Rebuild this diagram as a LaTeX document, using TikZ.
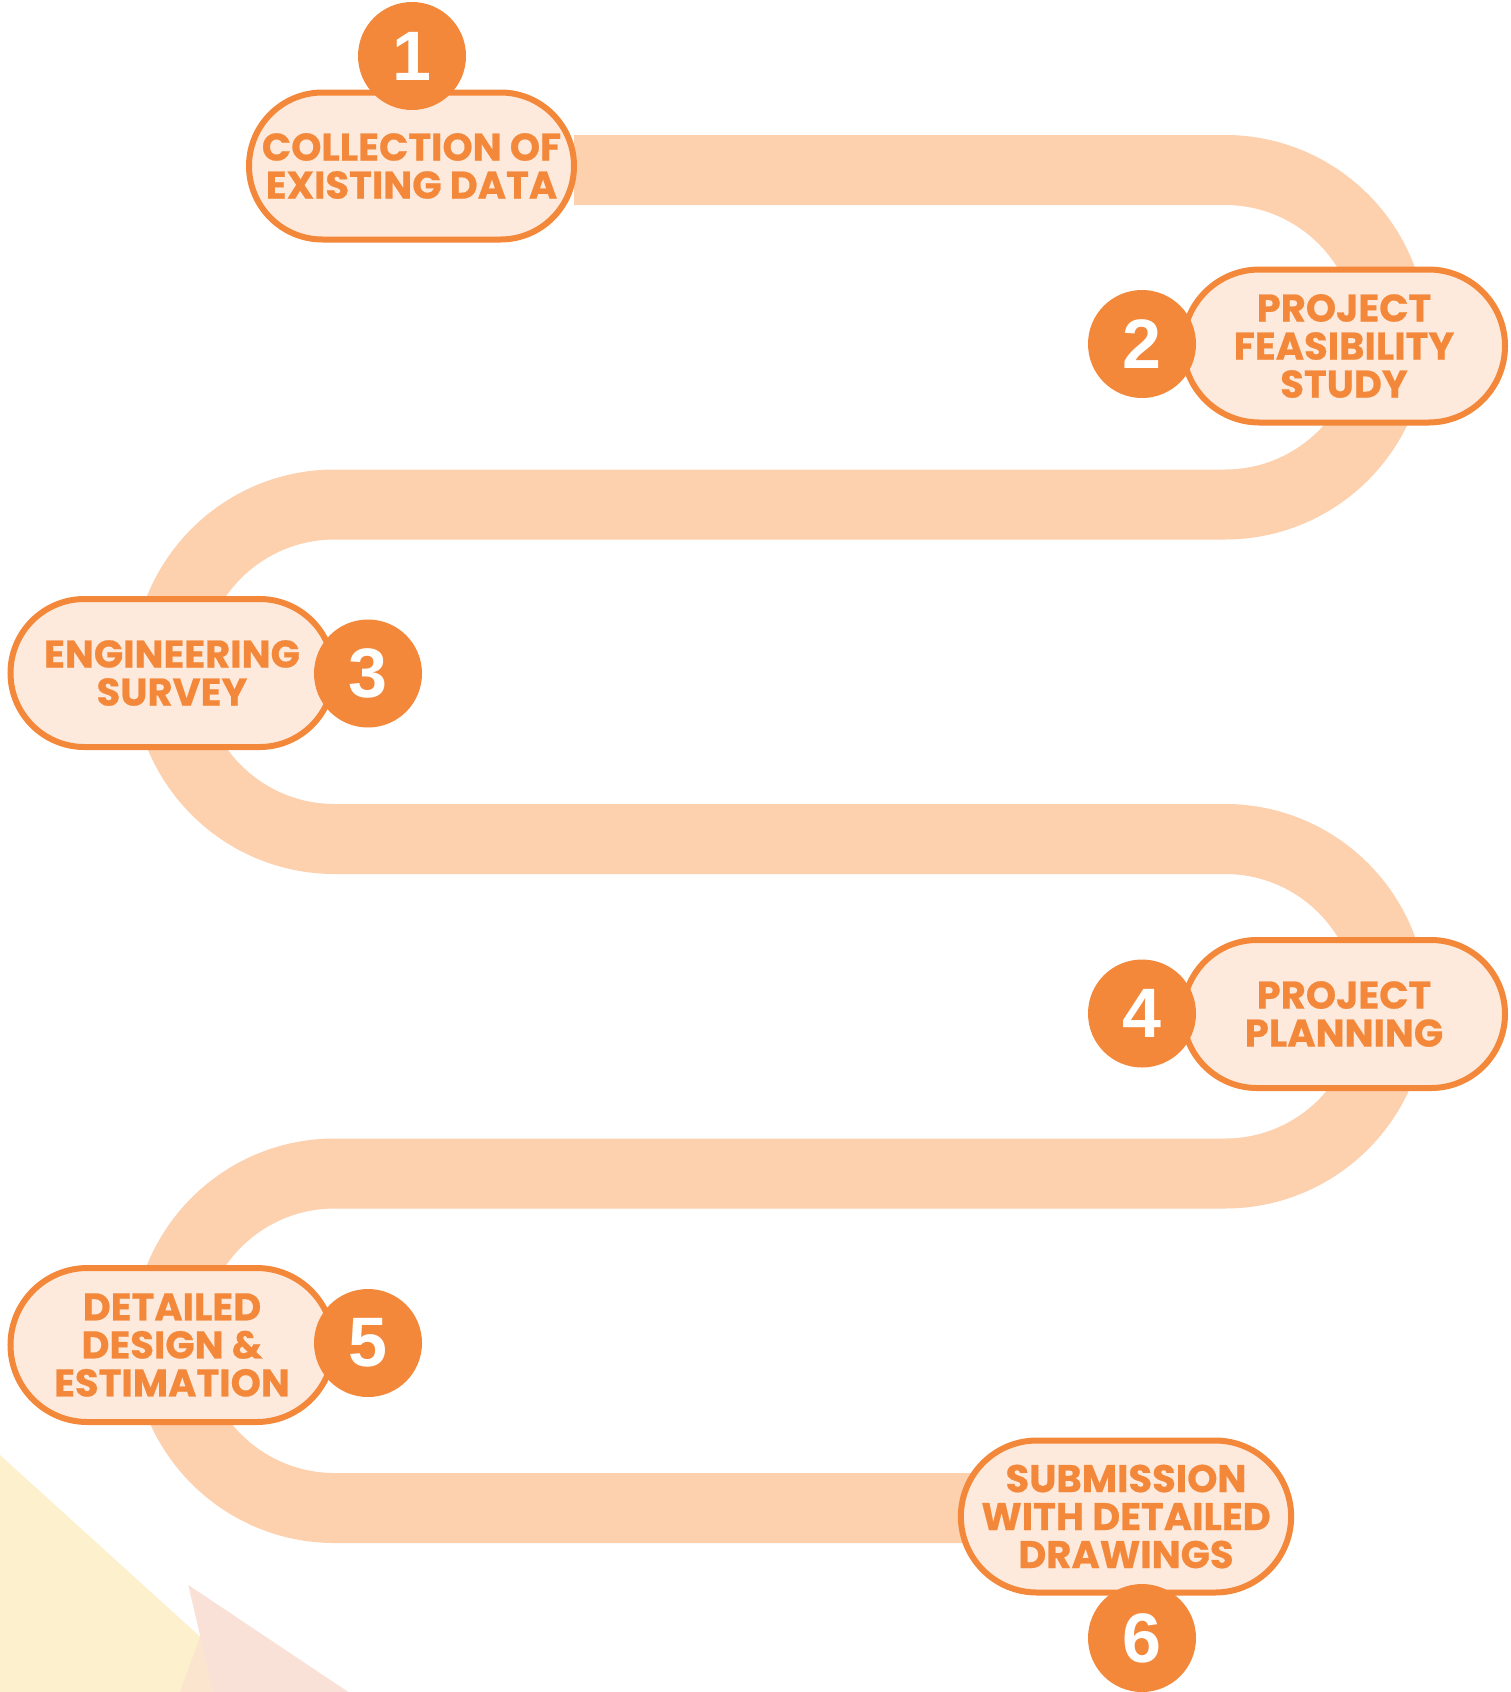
\documentclass[tikz,border=0pt]{standalone}
\usepackage{fontspec}
\usetikzlibrary{shapes.misc}
\newfontfamily\labfont{Poppins}[BoldFeatures={FakeBold=0.6}]
\newfontfamily\numfont{Liberation Sans}
\definecolor{org}{HTML}{F4883A}
\definecolor{bandc}{HTML}{FDD0AE}
\definecolor{boxfill}{HTML}{FEEADC}
\definecolor{tyellow}{HTML}{FDF0CC}
\definecolor{tpink}{HTML}{FAE1D8}
\definecolor{tpeach}{HTML}{FCE5CF}
\begin{document}
\begin{tikzpicture}[x=1pt,y=-1pt,
  stepbox/.style={rounded rectangle, draw=org, line width=6pt, fill=boxfill, inner sep=0pt,
    align=center, text=org, font=\labfont\bfseries\fontsize{38.5}{38}\selectfont},
  numdisc/.style={circle, fill=org, minimum size=108pt, inner sep=0pt, text=white,
    font=\numfont\bfseries\fontsize{70}{70}\selectfont}]
\fill[white] (0,0) rectangle (1510,1692);
\useasboundingbox (0,0) rectangle (1510,1692);
% background triangles
\fill[tyellow] (0,1455) -- (261,1692) -- (0,1692) -- cycle;
\fill[tpeach] (180,1692) -- (207,1618) -- (250,1692) -- cycle;
\fill[tpink] (188.3,1585) -- (348.3,1692) -- (213.3,1692) -- cycle;
% band
\coordinate (s) at (574,170);
\coordinate (e) at (1000,1508);
\draw[bandc, line width=70pt] (s) -- (1225,170)
  arc[start angle=90, end angle=-90, radius=167.25pt] -- (334.6,504.5)
  arc[start angle=90, end angle=270, radius=167.25pt] -- (1225,839)
  arc[start angle=90, end angle=-90, radius=167.25pt] -- (334.6,1173.5)
  arc[start angle=90, end angle=270, radius=167.25pt] -- (e);
% boxes
\node[stepbox, minimum width=325pt, minimum height=147pt] (b1) at (411.5,166) {COLLECTION OF\\EXISTING DATA};
\node[stepbox, minimum width=322pt, minimum height=153pt] (b2) at (1344,346) {PROJECT\\FEASIBILITY\\STUDY};
\node[stepbox, minimum width=323pt, minimum height=148pt] (b3) at (172,673) {ENGINEERING\\SURVEY};
\node[stepbox, minimum width=322pt, minimum height=148pt] (b4) at (1344,1014) {PROJECT\\PLANNING};
\node[stepbox, minimum width=323pt, minimum height=154pt] (b5) at (172,1345) {DETAILED\\DESIGN \&\\ESTIMATION};
\node[stepbox, minimum width=326pt, minimum height=152pt] (b6) at (1126,1516.5) {SUBMISSION\\WITH DETAILED\\DRAWINGS};
% numbers
\node[numdisc] (n1) at (412,56) {1};
\node[numdisc] (n2) at (1142,344) {2};
\node[numdisc] (n3) at (368,673.5) {3};
\node[numdisc] (n4) at (1142,1013.5) {4};
\node[numdisc] (n5) at (368,1343) {5};
\node[numdisc] (n6) at (1142,1638) {6};
\end{tikzpicture}
\end{document}
